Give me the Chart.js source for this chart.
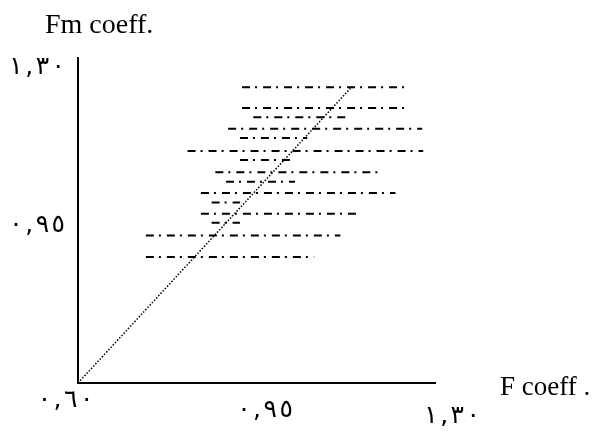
<!DOCTYPE html>
<html>
<head>
<meta charset="utf-8">
<script src="https://cdn.jsdelivr.net/npm/chart.js@4.4.1/dist/chart.umd.min.js"></script>
<style>
  html, body { margin: 0; padding: 0; background: #fff; }
</style>
</head>
<body>
<canvas id="grafico" width="609" height="439"></canvas>
<script>
// ticks de los ejes
const xTicks = [0.60, 0.95, 1.30];
const yTicks = [0.95, 1.30];

// lineas horizontales (punto-raya): nivel y, desde x, hasta x
const nivelY = [1.255, 1.209, 1.189, 1.163, 1.143, 1.114, 1.094, 1.067, 1.046, 1.021, 1.000, 0.975, 0.955, 0.927, 0.879];
const desdeX = [0.907, 0.907, 0.928, 0.881, 0.903, 0.805, 0.903, 0.857, 0.877, 0.830, 0.850, 0.830, 0.850, 0.727, 0.727];
const hastaX = [1.220, 1.220, 1.107, 1.244, 1.029, 1.246, 1.004, 1.169, 1.006, 1.194, 0.903, 1.129, 0.903, 1.091, 1.042];

// linea diagonal punteada
const diagonalX = [0.60, 1.113];
const diagonalY = [0.60, 1.257];

const digitosArabes = ['٠', '١', '٢', '٣', '٤', '٥', '٦', '٧', '٨', '٩'];
// cifras arabes separadas, forzadas de izquierda a derecha
const aArabe = v => '\u202D' + Number(v).toFixed(2).replace('.', ',')
  .replace(/[0-9]/g, d => digitosArabes[d]).split('').join('\u200A') + '\u202C';

// en el original las etiquetas del eje x bajan un poco hacia la derecha
const alturaLineaX = [24, 44, 56];

const datasets = nivelY.map((y, i) => ({
  data: [{ x: desdeX[i], y: y }, { x: hastaX[i], y: y }],
  showLine: true,
  borderColor: '#000',
  borderWidth: 2,
  borderDash: [8, 5, 2, 6],
  pointRadius: 0
}));

datasets.push({
  data: diagonalX.map((x, i) => ({ x: x, y: diagonalY[i] })),
  showLine: true,
  borderColor: '#000',
  borderWidth: 1.5,
  borderDash: [1.5, 1.7],
  pointRadius: 0
});

const titulos = {
  id: 'titulos',
  afterDraw(chart) {
    const ctx = chart.ctx;
    ctx.save();
    ctx.fillStyle = '#000';
    ctx.font = '28px "Liberation Serif"';
    ctx.textBaseline = 'alphabetic';
    ctx.textAlign = 'left';
    ctx.fillText('Fm coeff.', 45, 33);
    ctx.font = '27px "Liberation Serif"';
    ctx.fillText('F coeff .', 500, 395);
    ctx.restore();
  }
};

new Chart(document.getElementById('grafico'), {
  type: 'scatter',
  data: { datasets: datasets },
  options: {
    responsive: false,
    animation: false,
    devicePixelRatio: 1,
    layout: { padding: { top: 58, right: 174, bottom: 0, left: 0 } },
    plugins: { legend: { display: false }, tooltip: { enabled: false } },
    scales: {
      x: {
        type: 'linear',
        min: 0.6,
        max: 1.268,
        grid: { display: false, drawTicks: false },
        border: { color: '#000', width: 2 },
        ticks: {
          autoSkip: false, maxRotation: 0, padding: 5, color: '#000',
          font: c => ({ family: "'DejaVu Sans'", size: 25, lineHeight: (alturaLineaX[c.index] || 24) + 'px' }),
          callback: (v, i) => aArabe(v) + (i === 0 ? '\u2003' : '')
        },
        afterBuildTicks: s => { s.ticks = xTicks.map(v => ({ value: v })); },
        afterFit: s => { s.height = 56; }
      },
      y: {
        type: 'linear',
        min: 0.6,
        max: 1.32,
        grid: { display: false, drawTicks: false },
        border: { color: '#000', width: 2 },
        ticks: { autoSkip: false, padding: 13, color: '#000', font: { family: "'DejaVu Sans'", size: 25 }, callback: v => aArabe(v) },
        afterBuildTicks: s => { s.ticks = yTicks.map(v => ({ value: v })); },
        afterFit: s => { s.width = 78; }
      }
    }
  },
  plugins: [titulos]
});
</script>
</body>
</html>
